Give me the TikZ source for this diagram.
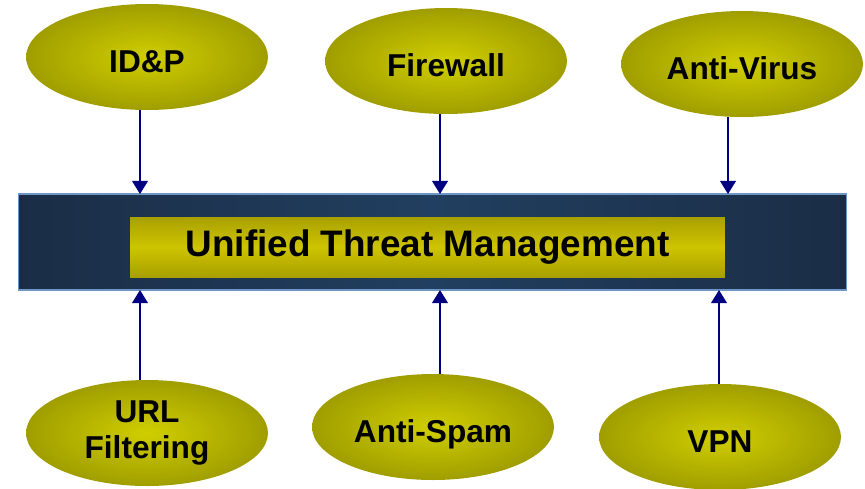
\documentclass[tikz,border=0pt]{standalone}
\usepackage{fontspec}
\setmainfont{Liberation Sans}
\usepackage{tikz}
\usetikzlibrary{arrows.meta,shapes.geometric}

\definecolor{olivein}{RGB}{208,206,0}
\definecolor{oliveout}{RGB}{160,158,0}
\definecolor{barin}{RGB}{206,196,0}
\definecolor{barout}{RGB}{168,160,0}
\definecolor{navyside}{RGB}{27,45,70}
\definecolor{navymid}{RGB}{33,63,96}
\definecolor{navyedge}{RGB}{112,150,200}
\definecolor{feednavy}{RGB}{0,0,128}

\begin{document}
\begin{tikzpicture}[x=0.02cm,y=-0.02cm]
      \tikzset{
      module/.style={ellipse, minimum width=4.84cm, minimum height=2.12cm,
        inner sep=0pt, shading=radial, inner color=olivein, outer color=oliveout,
        font=\fontsize{18}{20}\selectfont\bfseries, align=center},
      oneline/.style={text height=18pt, text depth=0pt},
      utmbox/.style={rectangle, minimum width=16.58cm, minimum height=1.92cm,
        draw=navyedge, line width=0.6pt, left color=navyside, right color=navyside,
        middle color=navymid},
      utmlabel/.style={rectangle, minimum width=11.9cm, minimum height=1.2cm,
        top color=barout, bottom color=barout, middle color=barin,
        font=\fontsize{21}{24}\selectfont\bfseries},
      feed/.style={draw=feednavy, line width=1.1pt,
        -{Triangle[width=9pt,length=7.5pt]}},
      }
      \useasboundingbox (0,0) rectangle (865,488);

      %central bar
      \node[utmbox] (utm) at (432.5,242) {};
      \node[utmlabel] (utmtext) at (427.5,247) {Unified Threat Management};

      %top modules
      \node[module, oneline] (idp) at (147,57) {ID\&P};
      \node[module, oneline] (fw) at (446,61) {Firewall};
      \node[module, oneline] (av) at (742,64) {Anti-Virus};

      %bottom modules
      \node[module] (url) at (147,433) {URL\\Filtering};
      \node[module, oneline] (spam) at (433,427) {Anti-Spam};
      \node[module, oneline] (vpn) at (720,437) {VPN};

      %inputs on the bar
      \coordinate (t1) at (140,194);
      \coordinate (t2) at (440,194);
      \coordinate (t3) at (728,194);
      \coordinate (b1) at (140,290);
      \coordinate (b2) at (440,290);
      \coordinate (b3) at (719,290);

      \draw[feed] (idp.south -| t1) -- (t1);
      \draw[feed] (fw.south -| t2) -- (t2);
      \draw[feed] (av.south -| t3) -- (t3);
      \draw[feed] (url.north -| b1) -- (b1);
      \draw[feed] (spam.north -| b2) -- (b2);
      \draw[feed] (vpn.north -| b3) -- (b3);
\end{tikzpicture}
\end{document}
